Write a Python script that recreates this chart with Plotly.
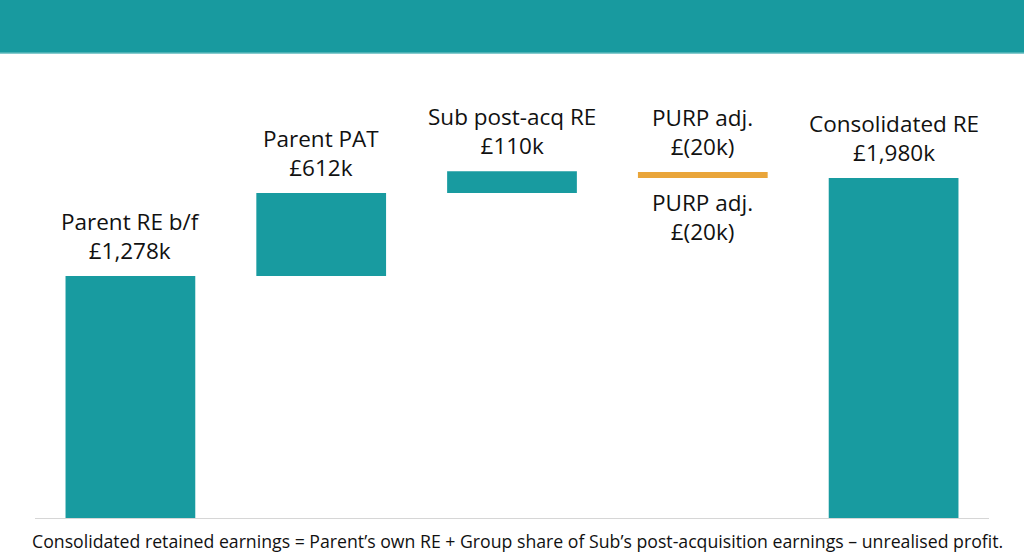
import plotly.graph_objects as go

# ---- data ----
categories = ["Parent RE b/f", "Parent PAT", "Sub post-acq RE", "PURP adj.", "Consolidated RE"]
label_amounts = ["£1,278k", "£612k", "£110k", "£(20k)", "£1,980k"]
# bar extents as drawn in the picture (illustrative scale, £k)
bar_bases = [0, 1409, 1892, 1980, 0]
bar_heights = [1409, 483, 128, 35, 1980]
bar_kinds = ["teal", "teal", "teal", "orange", "teal"]
footnote = ("Consolidated retained earnings = Parent\u2019s own RE + Group share of Sub\u2019s "
            "post-acquisition earnings \u2013 unrealised profit.")

TEAL = "#189BA0"
ORANGE = "#E9A53A"
colors = [TEAL if k == "teal" else ORANGE for k in bar_kinds]

fig = go.Figure()
fig.add_trace(go.Bar(
    x=categories, y=bar_heights, base=bar_bases,
    marker=dict(color=colors, line=dict(width=0)),
    width=0.68, hoverinfo="skip", showlegend=False,
))

LABEL_FONT = dict(family="Open Sans, Lato, sans-serif", size=22.5, color="#111111")
anns = []
for cat, amt, b, h, k in zip(categories, label_amounts, bar_bases, bar_heights, bar_kinds):
    anns.append(dict(x=cat, y=b + h, xref="x", yref="y", text=f"{cat}<br>{amt}",
                     showarrow=False, yanchor="bottom", yshift=8, font=LABEL_FONT))
    if k == "orange":
        anns.append(dict(x=cat, y=b, xref="x", yref="y", text=f"{cat}<br>{amt}",
                         showarrow=False, yanchor="top", yshift=-7, font=LABEL_FONT))

anns.append(dict(x=0.5, y=0, xref="paper", yref="paper",
                 text=footnote, showarrow=False, xanchor="center", yanchor="middle",
                 yshift=-23, xshift=5,
                 font=dict(family="Open Sans, sans-serif", size=17.7, color="#111111")))

L, R, T, B = 34.5, 1024 - 989.5, 53, 40
fig.update_layout(
    width=1024, height=558,
    margin=dict(l=L, r=R, t=T, b=B, pad=0),
    paper_bgcolor="white", plot_bgcolor="white",
    xaxis=dict(showticklabels=False, showgrid=False, zeroline=False, ticks="",
               showline=True, linecolor="#D6D6D6", linewidth=1, fixedrange=True),
    yaxis=dict(range=[0, 2708], visible=False, fixedrange=True),
    annotations=anns,
    shapes=[
        dict(type="rect", xref="paper", yref="paper", x0=-0.05, x1=1.05, y0=1.0, y1=1.2,
             fillcolor="#189A9F", line=dict(width=0), layer="above"),
        dict(type="line", xref="paper", yref="paper", x0=-0.05, x1=1.05, y0=1.0, y1=1.0,
             line=dict(color="#5DB9BC", width=1.5), layer="above"),
    ],
    bargap=0.32,
)

fig.write_html("out.html", config={"displayModeBar": False},
               post_script="document.body.style.margin='0';document.body.style.overflow='hidden';")
